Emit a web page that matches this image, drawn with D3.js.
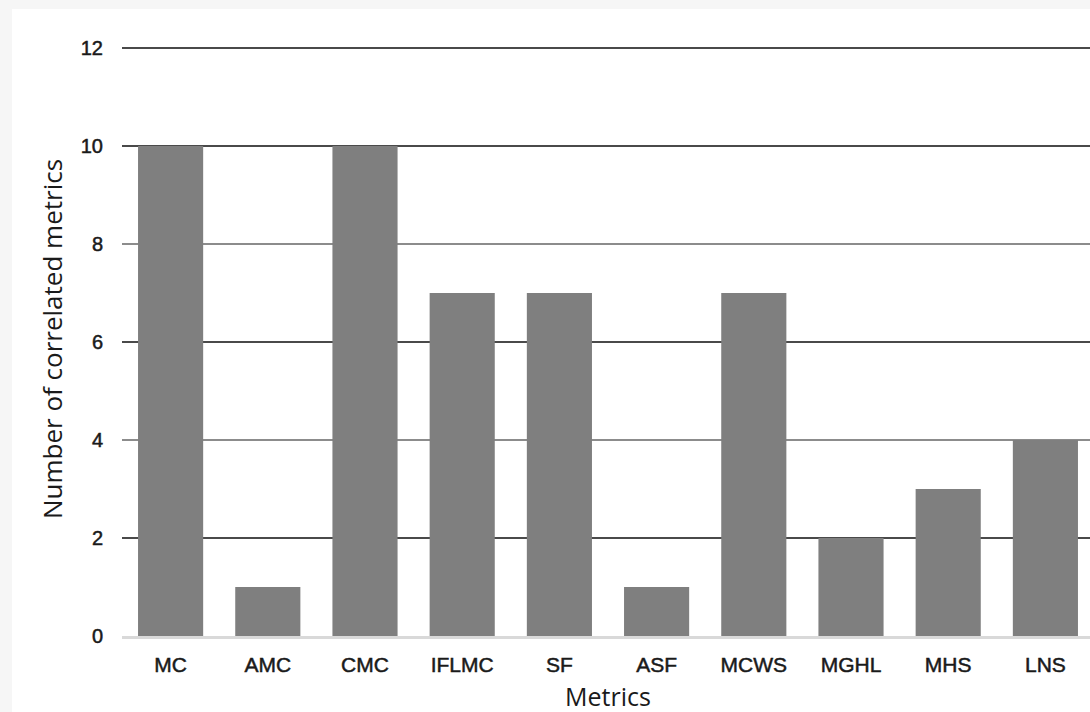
<!DOCTYPE html>
<html>
<head>
<meta charset="utf-8">
<script src="https://cdn.jsdelivr.net/npm/d3@7"></script>
<style>
  html, body { margin: 0; padding: 0; background: #f6f6f6; }
  svg { display: block; }
</style>
</head>
<body>
<svg id="chart" width="1090" height="712"></svg>
<script>
// Number of correlated metrics per metric
const categories = ["MC", "AMC", "CMC", "IFLMC", "SF", "ASF", "MCWS", "MGHL", "MHS", "LNS"];
const values = [10, 1, 10, 7, 7, 1, 7, 2, 3, 4];
const yTicks = [0, 2, 4, 6, 8, 10, 12];

const svg = d3.select("#chart");
const W = 1090, H = 712;

// white panel
svg.append("rect").attr("x", 12).attr("y", 9).attr("width", W - 12).attr("height", H - 9).attr("fill", "#ffffff");

const plotLeft = 122, plotRight = 1094;
const y = d3.scaleLinear().domain([0, 12]).range([636, 48]);
const x = d3.scaleBand().domain(categories).range([plotLeft, plotRight])
  .paddingInner(0.33).paddingOuter(0.165);

// horizontal gridlines
const gridColor = d => d === 0 ? "#d9d9d9" : (d === 4 || d === 8 ? "#8c8c8c" : "#4a4a4a");
svg.append("g").selectAll("line").data(yTicks.filter(d => d > 0)).join("line")
  .attr("x1", plotLeft).attr("x2", W)
  .attr("y1", d => y(d)).attr("y2", d => y(d))
  .attr("stroke", gridColor).attr("stroke-width", 2);

// bars
svg.append("g").selectAll("rect").data(categories).join("rect")
  .attr("x", d => x(d))
  .attr("width", x.bandwidth())
  .attr("y", (d, i) => y(values[i]))
  .attr("height", (d, i) => y(0) - y(values[i]))
  .attr("fill", "#7f7f7f");

// baseline
svg.append("line").attr("x1", plotLeft).attr("x2", W)
  .attr("y1", y(0) + 1.5).attr("y2", y(0) + 1.5)
  .attr("stroke", gridColor(0)).attr("stroke-width", 3);

// y axis tick labels
const yAxis = d3.axisLeft(y).tickValues(yTicks).tickSize(0).tickPadding(0).tickFormat(d3.format("d"));
const gy = svg.append("g").attr("transform", "translate(103,0)").call(yAxis);
gy.select(".domain").remove();
gy.selectAll("text")
  .attr("font-family", "'Liberation Sans', Arial, sans-serif")
  .attr("font-size", 20).attr("fill", "#1a1a1a")
  .attr("stroke", "#1a1a1a").attr("stroke-width", 0.5);

// x axis category labels
const xAxis = d3.axisBottom(x).tickSize(0).tickPadding(0);
const gx = svg.append("g").attr("transform", "translate(0,657)").call(xAxis);
gx.select(".domain").remove();
gx.selectAll("text")
  .attr("dy", "0.71em")
  .attr("font-family", "'Liberation Sans', Arial, sans-serif")
  .attr("font-size", 21).attr("fill", "#1a1a1a")
  .attr("stroke", "#1a1a1a").attr("stroke-width", 0.5);

// axis titles
svg.append("text").text("Metrics")
  .attr("x", 608).attr("y", 706).attr("text-anchor", "middle")
  .attr("font-family", "'Open Sans', sans-serif").attr("font-size", 25).attr("fill", "#1a1a1a");
svg.append("text").text("Number of correlated metrics")
  .attr("transform", "translate(62,339) rotate(-90)").attr("text-anchor", "middle")
  .attr("font-family", "'Open Sans', sans-serif").attr("font-size", 26).attr("fill", "#1a1a1a");
</script>
</body>
</html>
